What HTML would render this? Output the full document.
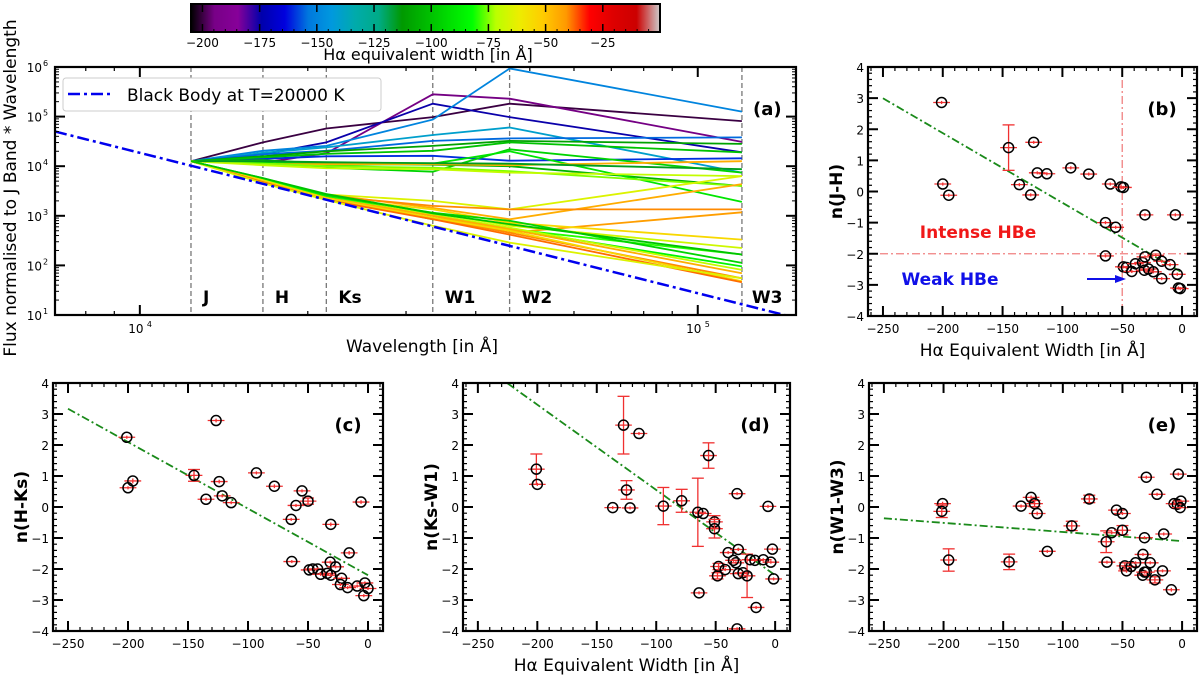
<!DOCTYPE html>
<html><head><meta charset="utf-8">
<style>
html,body{margin:0;padding:0;background:#fff;}
svg{display:block;font-family:"DejaVu Sans","Liberation Sans",sans-serif;}
</style></head>
<body>
<svg id="fig" width="1200" height="680" viewBox="0 0 1200 680" xmlns="http://www.w3.org/2000/svg">
<defs>
<linearGradient id="cmap" x1="0" x2="1" y1="0" y2="0"></linearGradient>
</defs>
</svg>
<script>
// ---------- DATA ----------
const bandNames = ["J","H","Ks","W1","W2","W3"];
const bandWaves = [12350,16620,21590,33500,46000,120000];
const jNormLog = 4.1;
const sedEW = [-200,-195,-175,-150,-140,-155,-160,-110,-100,-95,-105,-90,-45,-75,-70,-115,
  -65,-45,-40,-42,-55,-68,-80,-95,-85,-70,-45,-40,-55,-38,-65,-100];
const sedLogs = [
 [4.48,4.76,4.99,5.26,4.91],[4.07,4.26,5.45,5.36,4.49],[4.24,4.48,5.26,4.99,4.28],
 [4.31,4.41,4.94,5.97,5.10],[4.27,4.38,4.63,4.78,3.87],[4.24,4.31,4.51,4.56,4.58],
 [4.15,4.20,4.21,4.11,4.16],[4.20,4.30,4.41,4.51,4.45],[4.18,4.25,4.31,4.48,4.28],
 [4.07,3.97,3.89,4.34,3.87],[4.12,4.05,4.03,4.00,3.60],[4.10,4.02,4.05,4.30,3.28],
 [4.04,4.04,4.04,4.02,4.10],[4.05,4.00,3.97,3.90,3.60],[4.02,3.96,3.94,3.87,3.80],
 [4.10,4.08,4.06,4.05,3.94],
 [3.74,3.43,3.30,3.13,3.80],[3.74,3.43,3.16,2.93,3.64],[3.72,3.40,3.20,3.13,3.13],
 [3.70,3.38,3.00,2.66,3.07],[3.72,3.36,3.13,2.86,2.52],[3.73,3.38,3.06,2.80,2.35],
 [3.75,3.40,3.00,2.73,2.22],[3.76,3.42,3.06,2.90,2.05],[3.74,3.38,2.93,2.73,1.98],
 [3.72,3.36,3.02,2.76,1.91],[3.70,3.36,3.00,2.73,1.84],[3.69,3.33,2.95,2.66,1.74],
 [3.71,3.35,2.96,2.70,1.68],[3.68,3.32,2.93,2.62,1.66],[3.66,3.32,2.80,2.46,1.74],
 [3.76,3.44,3.05,2.83,2.22]];
const bbSlope = -2.83;
const bbJLog = 4.01;
const cbTicks = [-200,-175,-150,-125,-100,-75,-50,-25];

const ewB = [-201,-200,-195,-145,-136,-126.5,-124,-121,-113,-93,-78,-60,-51,-49,-64,-55.5,-64,-31,-5.6,
 -49,-46.5,-42,-39,-33,-31,-31.5,-28,-24,-22,-17,-17,-10,-4,-3,-1.5];
const nB = [2.86,0.24,-0.12,1.41,0.22,-0.11,1.58,0.6,0.57,0.76,0.56,0.24,0.15,0.13,-1.0,-1.15,-2.07,-0.75,-0.75,
 -2.42,-2.44,-2.57,-2.32,-2.28,-2.1,-2.53,-2.49,-2.58,-2.05,-2.24,-2.8,-2.35,-2.66,-3.1,-3.12];
const errB = [0.05,0.05,0.05,0.73,0.05,0.05,0.05,0.05,0.05,0.05,0.05,0.05,0.08,0.05,0.05,0.05,0.05,0.05,0.05,
 0.05,0.05,0.05,0.05,0.05,0.05,0.05,0.05,0.05,0.05,0.05,0.05,0.05,0.05,0.05,0.05];
const fitB = [-0.02238,-2.6,-250];

const ewC = [-201,-200,-196,-126.6,-145,-135,-124,-121.5,-114,-93,-78,-55,-60,-50,-64,-31,-5.8,-15.7,-63.5,
 -49,-46,-42,-39.5,-34,-31.5,-31,-27,-22,-23,-17,-9,-2.6,0,-3.5];
const nC = [2.25,0.62,0.84,2.79,1.02,0.25,0.82,0.36,0.14,1.1,0.67,0.52,0.05,0.19,-0.4,-0.56,0.16,-1.48,-1.76,
 -2.03,-2.0,-2.0,-2.17,-2.14,-1.78,-2.2,-1.93,-2.3,-2.5,-2.6,-2.55,-2.45,-2.63,-2.86];
const errC = [0.05,0.05,0.08,0.06,0.19,0.05,0.06,0.05,0.05,0.05,0.06,0.05,0.05,0.1,0.05,0.06,0.06,0.06,0.05,
 0.05,0.05,0.05,0.05,0.05,0.05,0.05,0.05,0.05,0.05,0.05,0.05,0.05,0.05,0.05];
const fitC = [-0.02148,-2.2,-250];

const ewD = [-200.8,-200,-136.6,-127.5,-125,-122,-114.5,-94,-78.6,-65,-60.5,-56,-51,-51,-32,-6,-39.5,-31,-33,-35,
 -47.6,-48.5,-42,-31,-27,-23.6,-21,-17,-10,-3.6,-2.3,-1.3,-64,-16,-32];
const nD = [1.22,0.73,-0.02,2.64,0.55,-0.03,2.37,0.03,0.2,-0.17,-0.21,1.66,-0.48,-0.7,0.43,0.02,-1.47,-1.37,-1.8,-1.72,
 -1.92,-2.22,-2.02,-2.15,-2.12,-2.22,-1.7,-1.72,-1.7,-1.78,-1.36,-2.32,-2.77,-3.24,-3.93];
const errD = [0.49,0.05,0.05,0.93,0.3,0.05,0.05,0.6,0.37,1.1,0.05,0.41,0.2,0.3,0.05,0.05,0.05,0.05,0.05,0.05,
 0.1,0.1,0.05,0.05,0.05,0.7,0.05,0.05,0.05,0.05,0.05,0.05,0.05,0.05,0.05];
const fitD = [-0.0275,-2.2,-225];

const ewE = [-200.8,-201.5,-195.7,-145,-135,-126.6,-123.7,-121.5,-113,-92.5,-77.8,-63.6,-63,-59,-55,-50,-50,
 -48,-46.6,-42.7,-39,-32.8,-31.5,-30,-33,-30,-31.5,-26.7,-22.8,-21,-16.4,-15.4,-9,-3.2,-6.7,-4,-1,-1.6];
const nE = [0.11,-0.14,-1.71,-1.77,0.03,0.31,0.11,-0.21,-1.43,-0.61,0.26,-1.12,-1.78,-0.83,-0.1,-0.21,-0.75,
 -1.9,-2.06,-1.92,-1.8,-1.53,-0.99,0.96,-2.2,-2.1,-2.1,-1.8,-2.35,0.41,-2.06,-0.87,-2.67,1.06,0.11,0.09,0.19,-0.02];
const errE = [0.06,0.2,0.36,0.25,0.05,0.06,0.1,0.06,0.05,0.15,0.12,0.35,0.05,0.05,0.05,0.05,0.15,
 0.1,0.06,0.05,0.05,0.05,0.05,0.05,0.05,0.05,0.05,0.05,0.1,0.05,0.05,0.05,0.06,0.05,0.05,0.05,0.05,0.05];
const fitE = [-0.00294,-1.1,-250];

// ---------- HELPERS ----------
const NS = "http://www.w3.org/2000/svg";
const svg = document.getElementById("fig");
function mk(tag, attrs, parent){
  const e = document.createElementNS(NS, tag);
  for (const k in attrs) e.setAttribute(k, attrs[k]);
  (parent||svg).appendChild(e);
  return e;
}
function txt(s, attrs, parent){ const t = mk("text", attrs, parent); t.textContent = s; return t; }

const cmStops = [[0,0,0,0],[0.05,.47,0,.53],[0.1,.53,0,.6],[0.15,0,0,.67],[0.2,0,0,.87],[0.25,0,.47,.87],
 [0.3,0,.6,.87],[0.35,0,.67,.67],[0.4,0,.67,.53],[0.45,0,.6,0],[0.5,0,.73,0],[0.55,0,.87,0],[0.6,0,1,0],
 [0.65,.73,1,0],[0.7,.93,.93,0],[0.75,1,.8,0],[0.8,1,.6,0],[0.85,1,0,0],[0.9,.87,0,0],[0.95,.8,0,0],[1,.8,.8,.8]];
function cmap(t){
  t=Math.max(0,Math.min(1,t));
  for(let i=1;i<cmStops.length;i++){
    if(t<=cmStops[i][0]){const a=cmStops[i-1],b=cmStops[i];const f=(t-a[0])/(b[0]-a[0]);
      const c=[1,2,3].map(j=>Math.round(255*(a[j]+(b[j]-a[j])*f)));return `rgb(${c[0]},${c[1]},${c[2]})`;}
  }
  return "rgb(204,204,204)";
}
const cbMin=-205, cbMax=0;
const grad=document.getElementById("cmap");
cmStops.forEach(s=>{mk("stop",{offset:s[0],"stop-color":`rgb(${Math.round(s[1]*255)},${Math.round(s[2]*255)},${Math.round(s[3]*255)})`},grad);});

// ---------- PANEL (a) ----------
const A = {l:55,r:796,t:67,b:315, xmin:Math.log10(7046), xmax:Math.log10(150000), ymin:1, ymax:6};
const ax = lw => A.l+(Math.log10(lw)-A.xmin)/(A.xmax-A.xmin)*(A.r-A.l);
const ay = lg => A.b-(lg-A.ymin)/(A.ymax-A.ymin)*(A.b-A.t);
const gA = mk("g",{});
const clipA = mk("clipPath",{id:"clipA"},svg.querySelector("defs"));
mk("rect",{x:A.l,y:A.t,width:A.r-A.l,height:A.b-A.t},clipA);
const gAc = mk("g",{"clip-path":"url(#clipA)"},gA);
bandWaves.forEach((w,i)=>{
  const l=mk("line",{x1:ax(w),x2:ax(w),y1:A.t,y2:A.b,stroke:"#777","stroke-width":1.3,"stroke-dasharray":"5,3"},gAc);
  
  
  const t=txt(bandNames[i],{x:ax(w)+(i==5?10:12),y:303,"font-size":17,"font-weight":"bold",fill:"#000"},gA);
  
  
});
sedLogs.forEach((row,i)=>{
  const pts=[[bandWaves[0],jNormLog]].concat(row.map((v,j)=>[bandWaves[j+1],v]));
  const p=mk("polyline",{points:pts.map(p=>ax(p[0]).toFixed(1)+","+ay(p[1]).toFixed(1)).join(" "),
    fill:"none",stroke:cmap((sedEW[i]-cbMin)/(cbMax-cbMin)),"stroke-width":1.8},gAc);
  
  
});
{
  const x0=Math.pow(10,A.xmin), x1=Math.pow(10,A.xmax), lj=Math.log10(bandWaves[0]);
  const bb=mk("line",{x1:ax(x0),y1:ay(bbJLog+bbSlope*(A.xmin-lj)),x2:ax(x1),y2:ay(bbJLog+bbSlope*(A.xmax-lj)),
    stroke:"#0000ee","stroke-width":2.5,"stroke-dasharray":"12,4,3,4"},gAc);
  
  
}
for(let d=3;d<=5;d++) for(let m=1;m<10;m++){
  const v=m*Math.pow(10,d), lv=Math.log10(v);
  if(lv<A.xmin||lv>A.xmax) continue;
  const L=m==1?10:4, x=ax(v);
  mk("line",{x1:x,x2:x,y1:A.b,y2:A.b-L,stroke:"#000","stroke-width":m==1?2:1.2},gA);
  mk("line",{x1:x,x2:x,y1:A.t,y2:A.t+L,stroke:"#000","stroke-width":m==1?2:1.2},gA);
  if(m==1){const t=txt("10",{x:x-4,y:A.b+18,"font-size":12,"text-anchor":"middle"},gA);
    
    txt(String(d),{x:x+7,y:A.b+12,"font-size":8},gA);}
}
for(let d=1;d<=6;d++){
  const y=ay(d);
  mk("line",{x1:A.l,x2:A.l+10,y1:y,y2:y,stroke:"#000","stroke-width":2},gA);
  mk("line",{x1:A.r,x2:A.r-10,y1:y,y2:y,stroke:"#000","stroke-width":2},gA);
  const t=txt("10",{x:A.l-13,y:y+5,"font-size":12,"text-anchor":"end"},gA);
  
  txt(String(d),{x:A.l-12,y:y-1,"font-size":8},gA);
  if(d<6) for(let m=2;m<10;m++){const yy=ay(d+Math.log10(m));
    mk("line",{x1:A.l,x2:A.l+4,y1:yy,y2:yy,stroke:"#000","stroke-width":1},gA);
    mk("line",{x1:A.r,x2:A.r-4,y1:yy,y2:yy,stroke:"#000","stroke-width":1},gA);}
}
mk("rect",{x:A.l,y:A.t,width:A.r-A.l,height:A.b-A.t,fill:"none",stroke:"#000","stroke-width":2.2,},gA);
{
  const lg=mk("g",{},gA);
  mk("rect",{x:63,y:78,width:318,height:33,rx:3,fill:"#fff",stroke:"#ccc","stroke-width":1},lg);
  mk("line",{x1:68,x2:110,y1:94,y2:94,stroke:"#0000ee","stroke-width":2.5,"stroke-dasharray":"12,4,3,4"},lg);
  txt("Black Body at T=20000 K",{x:127,y:101,"font-size":17},lg);
}
txt("(a)",{x:753,y:115,"font-size":18,"font-weight":"bold",},gA);
txt("Wavelength [in Å]",{x:422,y:352,"font-size":17,"text-anchor":"middle",},gA);
txt("Flux normalised to J Band * Wavelength",{x:0,y:0,"font-size":17,"text-anchor":"middle",
  transform:"translate(16,188) rotate(-90)",},gA);

{
  const cb=mk("g",{});
  const L=191,R=660,T=4,B=32;
  mk("rect",{x:L,y:T,width:R-L,height:B-T,fill:"url(#cmap)",stroke:"#000","stroke-width":2},cb);
  const cx=v=>L+(v-cbMin)/(cbMax-cbMin)*(R-L);
  for(let v=-200;v<0;v+=5){const x=cx(v),maj=v%25==0;
    mk("line",{x1:x,x2:x,y1:B,y2:B-(maj?8:3),stroke:"#000","stroke-width":maj?1.5:1},cb);
    if(maj) mk("line",{x1:x,x2:x,y1:T,y2:T+8,stroke:"#000","stroke-width":1.5},cb);}
  cbTicks.forEach(v=>{const t=txt("−"+Math.abs(v),{x:cx(v),y:47,"font-size":12,"text-anchor":"middle"},cb);
    });
  txt("Hα equivalent width [in Å]",{x:428,y:60,"font-size":16,"text-anchor":"middle",},cb);
}

// ---------- SCATTER PANELS ----------
function scatterPanel(cfg){
  const {l,r,t,b,name,label,ylab,xlab,ew,n,err,fit}=cfg;
  const xmin=-262.5,xmax=12.5,ymin=-4,ymax=4;
  const sx=v=>l+(v-xmin)/(xmax-xmin)*(r-l);
  const sy=v=>b-(v-ymin)/(ymax-ymin)*(b-t);
  const g=mk("g",{});
  
  
  const cid="clip"+name;
  const cp=mk("clipPath",{id:cid},svg.querySelector("defs"));
  mk("rect",{x:l,y:t,width:r-l,height:b-t},cp);
  const gc=mk("g",{"clip-path":`url(#${cid})`},g);
  if(cfg.extra) cfg.extra(gc,sx,sy);
  const fl=mk("line",{x1:sx(fit[2]),y1:sy(fit[0]*fit[2]+fit[1]),x2:sx(0),y2:sy(fit[1]),
    stroke:"#1a8a1a","stroke-width":1.8,"stroke-dasharray":"8,3,2,3"},gc);
  
  
  ew.forEach((x,i)=>{
    const px=sx(x),py=sy(n[i]),e=err[i];
    mk("line",{x1:sx(x-7),x2:sx(x+7),y1:py,y2:py,stroke:"#f03030","stroke-width":1.3},gc);
    const y1=sy(n[i]+e),y2=sy(n[i]-e);
    mk("line",{x1:px,x2:px,y1:y1,y2:y2,stroke:"#f03030","stroke-width":1.3},gc);
    if(e>0.08){mk("line",{x1:px-6,x2:px+6,y1:y1,y2:y1,stroke:"#f03030","stroke-width":1.3},gc);
      mk("line",{x1:px-6,x2:px+6,y1:y2,y2:y2,stroke:"#f03030","stroke-width":1.3},gc);}
    const c=mk("circle",{cx:px,cy:py,r:5,fill:"none",stroke:"#000","stroke-width":1.5},gc);
    
    
  });
  for(let v=-260;v<=10;v+=10){const x=sx(v),maj=v%50==0,L=maj?10:4;
    mk("line",{x1:x,x2:x,y1:b,y2:b-L,stroke:"#000","stroke-width":maj?2:1.2},g);
    mk("line",{x1:x,x2:x,y1:t,y2:t+L,stroke:"#000","stroke-width":maj?2:1.2},g);
    if(maj){const tl=txt(v<0?"−"+Math.abs(v):String(v),{x:x,y:b+17,"font-size":12,"text-anchor":"middle"},g);
      }}
  for(let k=-20;k<=20;k++){const v=k/5,y=sy(v),maj=k%5==0,L=maj?10:4;
    mk("line",{x1:l,x2:l+L,y1:y,y2:y,stroke:"#000","stroke-width":maj?2:1.2},g);
    mk("line",{x1:r,x2:r-L,y1:y,y2:y,stroke:"#000","stroke-width":maj?2:1.2},g);
    if(maj){const tl=txt(v<0?"−"+Math.abs(v):String(v),{x:l-4,y:y+5,"font-size":12,"text-anchor":"end"},g);
      }}
  mk("rect",{x:l,y:t,width:r-l,height:b-t,fill:"none",stroke:"#000","stroke-width":2.2},g);
  txt(label,{x:r-35,y:t+48,"font-size":18,"font-weight":"bold","text-anchor":"middle"},g);
  const yl=txt(ylab,{x:0,y:0,"font-size":17,"font-weight":"bold","text-anchor":"middle",transform:`translate(${l-26},${(t+b)/2}) rotate(-90)`},g);
  
  if(xlab){const xl=txt(xlab,{x:(l+r)/2,y:b+40,"font-size":17,"text-anchor":"middle"},g);
    }
  return {g,sx,sy};
}

scatterPanel({l:868,r:1197,t:67,b:316,name:"b",label:"(b)",ylab:"n(J-H)",xlab:"Hα Equivalent Width [in Å]",
  ew:ewB,n:nB,err:errB,fit:fitB,
  extra:(gc,sx,sy)=>{
    mk("line",{x1:sx(-50),x2:sx(-50),y1:0,y2:700,stroke:"#f08080","stroke-width":1.3,"stroke-dasharray":"8,3,2,3"},gc);
    mk("line",{x1:0,x2:1200,y1:sy(-2),y2:sy(-2),stroke:"#f08080","stroke-width":1.3,"stroke-dasharray":"8,3,2,3"},gc);
  }});
txt("Intense HBe",{x:978,y:238,"font-size":17,"font-weight":"bold",fill:"#f01818","text-anchor":"middle",});
txt("Weak HBe",{x:950,y:285,"font-size":17,"font-weight":"bold",fill:"#1010e8","text-anchor":"middle",});
mk("line",{x1:1087,x2:1117,y1:279,y2:279,stroke:"#1010e8","stroke-width":2,});
mk("polygon",{points:"1126,279 1115,275 1115,283",fill:"#1010e8"});

scatterPanel({l:53,r:383,t:383,b:631,name:"c",label:"(c)",ylab:"n(H-Ks)",xlab:null,ew:ewC,n:nC,err:errC,fit:fitC});
scatterPanel({l:463,r:790,t:383,b:631,name:"d",label:"(d)",ylab:"n(Ks-W1)",xlab:"Hα Equivalent Width [in Å]",ew:ewD,n:nD,err:errD,fit:fitD});
scatterPanel({l:869,r:1197,t:383,b:631,name:"e",label:"(e)",ylab:"n(W1-W3)",xlab:null,ew:ewE,n:nE,err:errE,fit:fitE});
</script>
</body></html>
